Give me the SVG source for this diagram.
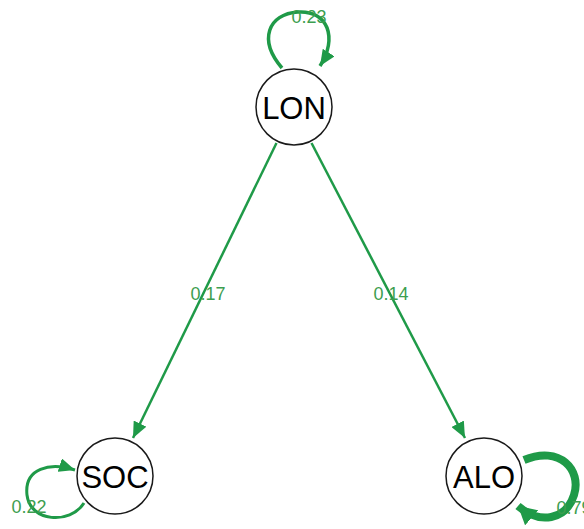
<svg xmlns="http://www.w3.org/2000/svg" width="584" height="529" viewBox="0 0 584 529">
<style>
.node{fill:#ffffff;stroke:#1a1a1a;stroke-width:1.5}
.nl{font-family:"Liberation Sans",Arial,sans-serif;font-size:31px;fill:#000;text-anchor:middle;dominant-baseline:central}
.e{fill:none;stroke:#1f9a48;stroke-linecap:butt}
.el{font-family:"Liberation Sans",Arial,sans-serif;font-size:18px;fill:#3d9e4f;text-anchor:middle;dominant-baseline:central}
</style>
<defs>
<marker id="ah" markerUnits="userSpaceOnUse" markerWidth="18" markerHeight="14" refX="16" refY="7" orient="auto">
<path d="M0,0 L16,7 L0,14 Z" fill="#1f9a48"/>
</marker>
<marker id="ahL" markerUnits="userSpaceOnUse" markerWidth="22" markerHeight="20" refX="18" refY="10" orient="auto">
<path d="M0,0 L18,10 L0,20 Z" fill="#1f9a48"/>
</marker>
</defs>
<rect width="584" height="529" fill="#ffffff"/>
<g id="connectors">
<path class="e" d="M276.5,143 L133,438" stroke-width="2.5" marker-end="url(#ah)"/>
<path class="e" d="M311.5,143 L465,438" stroke-width="2.5" marker-end="url(#ah)"/>
<path class="e" d="M282,68 C258,40 268,14 298,12 C328,10 338,38 320,66" stroke-width="3.5" marker-end="url(#ah)"/>
<path class="e" d="M84,503 C70,525 30,522 27,495 C24,468 50,462 75,470" stroke-width="3" marker-end="url(#ah)"/>
<path class="e" d="M524,460 C560,445 582,470 574,495 C566,520 540,525 518,506" stroke-width="8" marker-end="url(#ahL)"/>
<g id="edge-labels">
<text class="el" x="208" y="294">0.17</text>
<text class="el" x="391" y="294">0.14</text>
<text class="el" x="309" y="17">0.23</text>
<text class="el" x="29" y="507">0.22</text>
<text class="el" x="574" y="508">0.79</text>
</g>
</g>
<g id="LON"><circle class="node" cx="294" cy="107" r="38"/><text class="nl" x="294" y="108">LON</text></g>
<g id="SOC"><circle class="node" cx="115" cy="476" r="38"/><text class="nl" x="115" y="477">SOC</text></g>
<g id="ALO"><circle class="node" cx="484" cy="476" r="38"/><text class="nl" x="484" y="477">ALO</text></g>
</svg>
